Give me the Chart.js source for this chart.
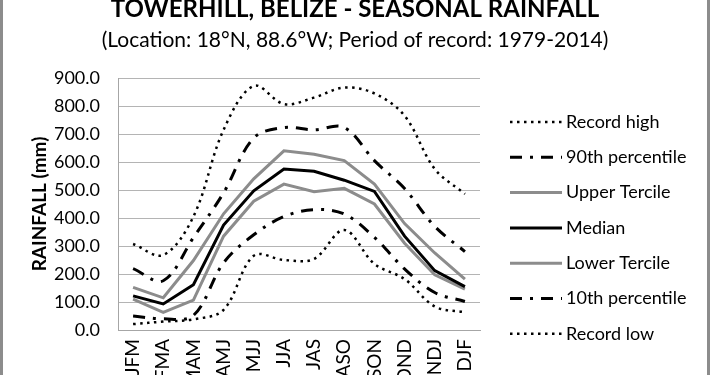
<!DOCTYPE html>
<html lang="en">
<head>
  <meta charset="UTF-8">
  <title>Towerhill, Belize - Seasonal Rainfall</title>
  <script src="https://cdn.jsdelivr.net/npm/chart.js"></script>
  <style>
    html, body {
      margin: 0;
      background: #fff;
    }
    #wrap {
      position: relative;
      width: 710px;
      height: 375px;
      overflow: hidden;
    }
    #wrap::before, #wrap::after {
      content: '';
      position: absolute;
      top: 0;
      bottom: 0;
      width: 3px;
      background: #8c8c8c;
    }
    #wrap::before { left: 0; }
    #wrap::after { left: 707px; }
  </style>
</head>
<body>
  <div id="wrap">
    <canvas id="rainChart" width="710" height="375"></canvas>
  </div>
  <script>
    const seasons = ['JFM','FMA','MAM','AMJ','MJJ','JJA','JAS','ASO','SON','OND','NDJ','DJF'];

    const recordHigh    = [307,268,405,715,872,807,830,866,845,765,575,486];
    const pct90         = [219,176,330,490,686,723,715,723,605,505,370,280];
    const upperTercile  = [152,115,248,415,540,640,628,605,521,380,275,182];
    const median        = [122, 93,162,375,497,575,567,535,495,335,212,155];
    const lowerTercile  = [110, 63,107,335,460,521,494,506,450,310,197,146];
    const pct10         = [ 50, 40, 52,240,340,405,430,414,331,218,134,102];
    const recordLow     = [ 21, 30, 38, 72,265,250,254,357,236,182, 84, 63];

    const FONT = 'Lato, "DejaVu Sans", sans-serif';
    const GREY = '#8c8c8c';
    const dot = [2.5, 4.5];
    const dashDot = [12, 8, 3, 8];

    const datasets = [
      { label: 'Record high',     data: recordHigh,   borderColor: '#000', borderWidth: 2.5, borderDash: dot,     tension: 0.35 },
      { label: '90th percentile', data: pct90,        borderColor: '#000', borderWidth: 3,   borderDash: dashDot, tension: 0.35 },
      { label: 'Upper Tercile',   data: upperTercile, borderColor: GREY,   borderWidth: 3,   borderDash: [],      tension: 0 },
      { label: 'Median',          data: median,       borderColor: '#000', borderWidth: 3,   borderDash: [],      tension: 0 },
      { label: 'Lower Tercile',   data: lowerTercile, borderColor: GREY,   borderWidth: 3,   borderDash: [],      tension: 0 },
      { label: '10th percentile', data: pct10,        borderColor: '#000', borderWidth: 3,   borderDash: dashDot, tension: 0.35 },
      { label: 'Record low',      data: recordLow,    borderColor: '#000', borderWidth: 2.5, borderDash: dot,     tension: 0.35 }
    ].map(d => Object.assign(d, { pointRadius: 0, fill: false }));

    // titles + legend drawn on the canvas
    const decor = {
      id: 'decor',
      afterDraw(chart) {
        const c = chart.ctx;
        c.save();
        c.fillStyle = '#000';
        c.textAlign = 'center';
        c.textBaseline = 'middle';
        c.font = 'bold 24px ' + FONT;
        c.fillText('TOWERHILL, BELIZE - SEASONAL RAINFALL', 355, 9);
        c.font = '21px ' + FONT;
        c.fillText('(Location: 18°N, 88.6°W; Period of record: 1979-2014)', 355, 40);

        c.textAlign = 'left';
        c.font = '18px ' + FONT;
        chart.data.datasets.forEach((d, i) => {
          const y = 122 + i * 35.3;
          c.beginPath();
          c.strokeStyle = d.borderColor;
          c.lineWidth = d.borderWidth;
          c.setLineDash(d.borderDash);
          c.moveTo(510, y);
          c.lineTo(562, y);
          c.stroke();
          c.fillStyle = '#000';
          c.fillText(d.label, 566, y);
        });
        c.restore();
      }
    };

    const ctx = document.getElementById('rainChart').getContext('2d');
    new Chart(ctx, {
      type: 'line',
      data: { labels: seasons, datasets },
      plugins: [decor],
      options: {
        responsive: false,
        animation: false,
        layout: { padding: { top: 78, right: 230, left: 0, bottom: 0 } },
        plugins: {
          legend: { display: false },
          tooltip: { enabled: false }
        },
        scales: {
          x: {
            offset: true,
            grid: { display: false, drawTicks: false },
            border: { color: '#a6a6a6' },
            ticks: {
              color: '#000', font: { family: FONT, size: 19 },
              minRotation: 90, maxRotation: 90, padding: 9, autoSkip: false
            },
            afterFit: s => { s.height = 45; }
          },
          y: {
            min: 0, max: 900,
            grid: { color: '#b4b4b4', drawTicks: false },
            border: { color: '#a6a6a6' },
            ticks: {
              stepSize: 100, color: '#000', padding: 18,
              font: { family: FONT, size: 18 },
              callback: v => v.toFixed(1)
            },
            title: {
              display: true, text: 'RAINFALL (mm)', color: '#000',
              font: { family: FONT, size: 19, weight: 'bold' },
              padding: { top: 28, bottom: 0 }
            },
            afterFit: s => { s.width = 118; }
          }
        }
      }
    });
  </script>
</body>
</html>
